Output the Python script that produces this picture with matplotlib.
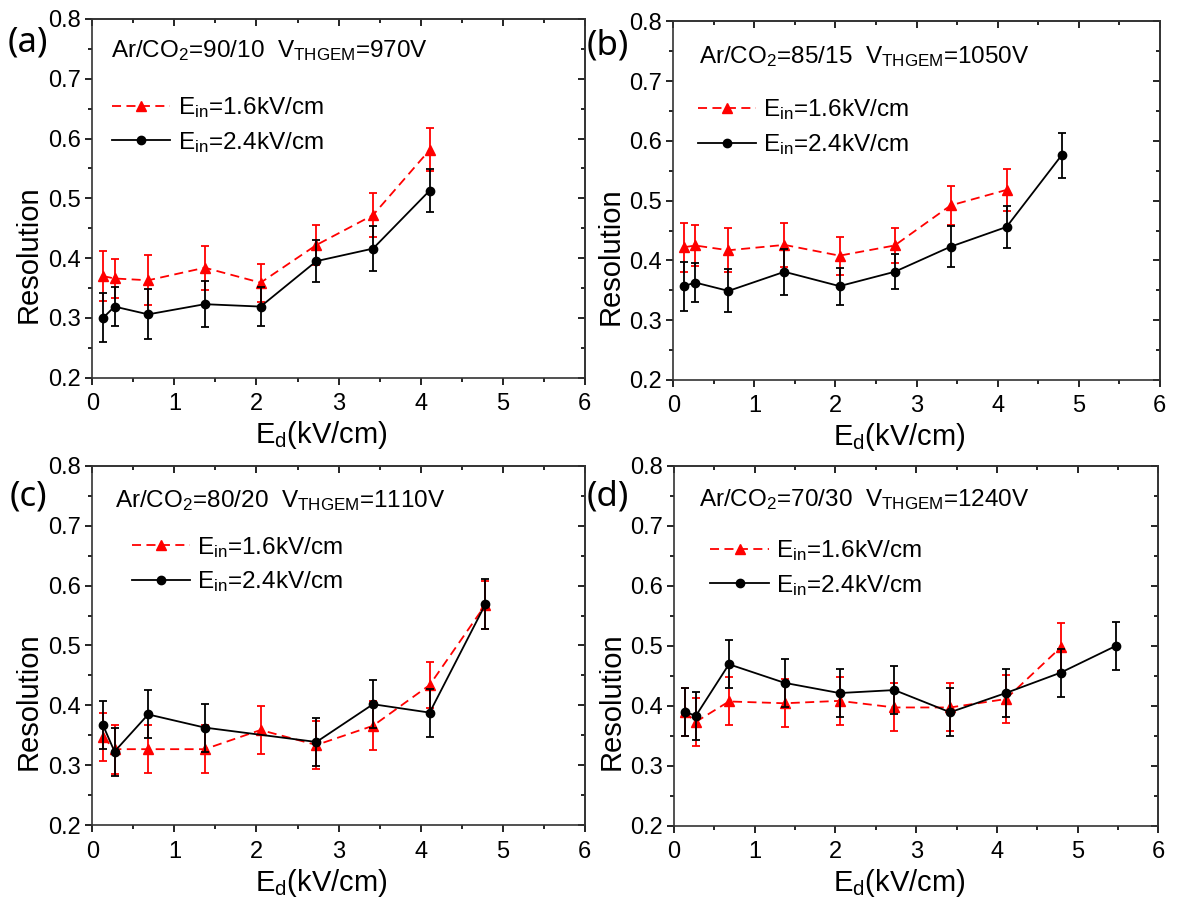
import numpy as np
import matplotlib
matplotlib.use('Agg')
import matplotlib.pyplot as plt
from matplotlib.ticker import MultipleLocator

plt.rcParams['font.family'] = ['Liberation Sans', 'DejaVu Sans']
plt.rcParams['mathtext.default'] = 'regular'

# ---------------------------- data ----------------------------
ed_all = [0.13, 0.27, 0.68, 1.37, 2.05, 2.73, 3.42, 4.11, 4.79, 5.48]

# (a) Ar/CO2 = 90/10
a_x_red = ed_all[:8]
a_y_red = [0.370, 0.366, 0.363, 0.384, 0.359, 0.422, 0.472, 0.581]
a_e_red = [0.042, 0.033, 0.042, 0.037, 0.032, 0.034, 0.037, 0.036]
a_x_blk = ed_all[:8]
a_y_blk = [0.300, 0.319, 0.306, 0.323, 0.319, 0.395, 0.416, 0.513]
a_e_blk = [0.041, 0.033, 0.042, 0.038, 0.033, 0.035, 0.038, 0.036]

# (b) Ar/CO2 = 85/15
b_x_red = ed_all[:8]
b_y_red = [0.422, 0.425, 0.417, 0.426, 0.408, 0.425, 0.492, 0.518]
b_e_red = [0.041, 0.034, 0.037, 0.037, 0.032, 0.029, 0.033, 0.035]
b_x_blk = ed_all[:9]
b_y_blk = [0.357, 0.363, 0.349, 0.381, 0.357, 0.381, 0.423, 0.456, 0.576]
b_e_blk = [0.041, 0.033, 0.036, 0.038, 0.031, 0.029, 0.034, 0.035, 0.038]

# (c) Ar/CO2 = 80/20
c_x_red = ed_all[:9]
c_y_red = [0.347, 0.327, 0.327, 0.327, 0.359, 0.334, 0.366, 0.434, 0.568]
c_e_red = [0.040, 0.041, 0.040, 0.040, 0.040, 0.040, 0.041, 0.038, 0.040]
c_x_blk = [0.13, 0.27, 0.68, 1.37, 2.73, 3.42, 4.11, 4.79]
c_y_blk = [0.367, 0.323, 0.385, 0.363, 0.339, 0.402, 0.388, 0.569]
c_e_blk = [0.040, 0.040, 0.040, 0.040, 0.040, 0.040, 0.040, 0.042]

# (d) Ar/CO2 = 70/30
d_x_red = ed_all[:9]
d_y_red = [0.389, 0.373, 0.407, 0.404, 0.408, 0.397, 0.397, 0.411, 0.497]
d_e_red = [0.040, 0.040, 0.040, 0.040, 0.040, 0.040, 0.040, 0.040, 0.040]
d_x_blk = ed_all
d_y_blk = [0.390, 0.383, 0.469, 0.438, 0.421, 0.426, 0.389, 0.421, 0.455, 0.500]
d_e_blk = [0.040, 0.040, 0.040, 0.040, 0.040, 0.040, 0.040, 0.040, 0.040, 0.040]

titles = ['Ar/CO$_2$=90/10  V$_{THGEM}$=970V',
          'Ar/CO$_2$=85/15  V$_{THGEM}$=1050V',
          'Ar/CO$_2$=80/20  V$_{THGEM}$=1110V',
          'Ar/CO$_2$=70/30  V$_{THGEM}$=1240V']
panel_labels = ['(a)', '(b)', '(c)', '(d)']
red_label = 'E$_{in}$=1.6kV/cm'
blk_label = 'E$_{in}$=2.4kV/cm'

panels = [
    (a_x_red, a_y_red, a_e_red, a_x_blk, a_y_blk, a_e_blk),
    (b_x_red, b_y_red, b_e_red, b_x_blk, b_y_blk, b_e_blk),
    (c_x_red, c_y_red, c_e_red, c_x_blk, c_y_blk, c_e_blk),
    (d_x_red, d_y_red, d_e_red, d_x_blk, d_y_blk, d_e_blk),
]

# ---------------------------- layout ----------------------------
positions = [[0.0784, 0.5803, 0.4180, 0.3986],
             [0.5716, 0.5778, 0.4129, 0.3985],
             [0.0784, 0.0830, 0.4180, 0.3996],
             [0.5722, 0.0826, 0.4111, 0.4000]]
title_pos = [(0.037, 0.912), (0.052, 0.901), (0.047, 0.903), (0.052, 0.905)]
legend_pos = [(0.02, 0.815), (0.03, 0.815), (0.06, 0.835), (0.055, 0.825)]
label_pos = [(0.024, 0.953), (0.516, 0.950), (0.024, 0.448), (0.516, 0.448)]

fig = plt.figure(figsize=(11.78, 9), dpi=100)

for i in range(4):
    xr, yr, er, xb, yb, eb = panels[i]
    ax = fig.add_axes(positions[i])

    ax.errorbar(xr, yr, yerr=er, fmt='none', ecolor='red', elinewidth=1.3,
                capsize=3, capthick=1.3, zorder=2)
    ax.plot(xr, yr, color='red', linestyle=(0, (5, 3)), linewidth=1.3,
            marker='^', markersize=6.5, label=red_label, zorder=3)
    ax.errorbar(xb, yb, yerr=eb, fmt='none', ecolor='black', elinewidth=1.3,
                capsize=3, capthick=1.3, zorder=4)
    ax.plot(xb, yb, color='black', linestyle='-', linewidth=1.3,
            marker='o', markersize=6, label=blk_label, zorder=5)

    ax.set_xlim(0, 6)
    ax.set_ylim(0.2, 0.8)
    ax.xaxis.set_major_locator(MultipleLocator(1))
    ax.xaxis.set_minor_locator(MultipleLocator(0.5))
    ax.yaxis.set_major_locator(MultipleLocator(0.1))
    ax.yaxis.set_minor_locator(MultipleLocator(0.05))
    ax.yaxis.set_major_formatter(plt.FormatStrFormatter('%.1f'))
    ax.tick_params(which='major', direction='out', length=5, width=1.2,
                   labelsize=17)
    ax.tick_params(which='minor', direction='out', length=3, width=1.2)
    ax.tick_params(axis='x', pad=6)
    ax.tick_params(axis='y', pad=3)
    for sp in ax.spines.values():
        sp.set_linewidth(1.2)
        sp.set_color('#333333')

    # top / right ticks point inward
    top = ax.secondary_xaxis('top')
    top.xaxis.set_major_locator(MultipleLocator(1))
    top.xaxis.set_minor_locator(MultipleLocator(0.5))
    top.tick_params(which='both', direction='in', labeltop=False, width=1.2)
    top.tick_params(which='major', length=5)
    top.tick_params(which='minor', length=3)
    top.spines['top'].set_linewidth(1.2)
    top.spines['top'].set_color('#333333')
    right = ax.secondary_yaxis('right')
    right.yaxis.set_major_locator(MultipleLocator(0.1))
    right.yaxis.set_minor_locator(MultipleLocator(0.05))
    right.tick_params(which='both', direction='in', labelright=False, width=1.2)
    right.tick_params(which='major', length=5)
    right.tick_params(which='minor', length=3)
    right.spines['right'].set_linewidth(1.2)
    right.spines['right'].set_color('#333333')

    ax.set_xlabel('E$_d$(kV/cm)', fontsize=21)
    ax.set_ylabel('Resolution', fontsize=21)
    ax.xaxis.set_label_coords(0.465, -0.115)
    ax.yaxis.set_label_coords(-0.10, 0.345)

    ax.text(title_pos[i][0], title_pos[i][1], titles[i], transform=ax.transAxes,
            fontsize=17.5, va='center', ha='left')
    ax.legend(loc='upper left', bbox_to_anchor=legend_pos[i], frameon=False,
              fontsize=17.5, handlelength=2.4, labelspacing=0.4, handletextpad=0.3,
              borderaxespad=0)

    fig.text(label_pos[i][0], label_pos[i][1], panel_labels[i], fontsize=25,
             ha='center', va='center', family=['Noto Sans', 'DejaVu Sans'])

fig.savefig('out.png', dpi=100)
